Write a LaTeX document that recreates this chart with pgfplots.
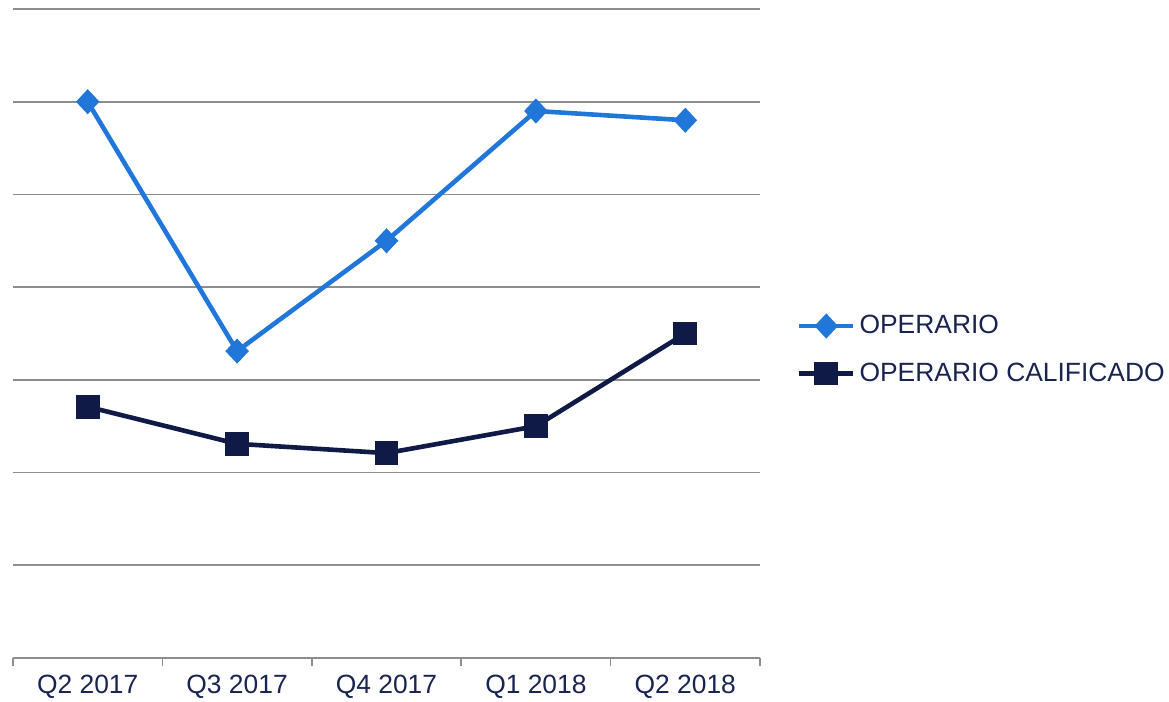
\documentclass[border=0pt]{standalone}
\usepackage{fontspec}
\setmainfont{Liberation Sans}
\usepackage{pgfplots}
\pgfplotsset{compat=1.18}
\definecolor{opblue}{RGB}{32,118,217}
\definecolor{opnavy}{RGB}{16,26,70}
\definecolor{txtnavy}{RGB}{26,36,80}
\definecolor{gridgray}{RGB}{140,140,145}

\begin{document}
\begin{tikzpicture}
\useasboundingbox (-6.5pt,-22pt) rectangle (578pt,329pt);
\begin{axis}[
    at={(0,0)}, anchor=south west,
    scale only axis,
    width=373.5pt, height=324.5pt,
    xmin=-0.5, xmax=4.5,
    ymin=0, ymax=7,
    axis x line*=bottom,
    axis y line*=left,
    x axis line style={gridgray, line width=0.8pt, -},
    y axis line style={draw=none},
    xtick={0,1,2,3,4},
    xticklabels={Q2 2017, Q3 2017, Q4 2017, Q1 2018, Q2 2018},
    major tick length=0pt,
    minor xtick={-0.5,0.5,1.5,2.5,3.5,4.5},
    minor tick length=4pt,
    tick align=outside,
    minor tick style={gridgray, line width=0.8pt},
    xticklabel style={font=\fontsize{13.2}{15}\selectfont, text=txtnavy, yshift=-5pt},
    ytick={1,2,3,4,5,6,7},
    yticklabels={},
    ymajorgrids,
    grid style={gridgray, line width=0.8pt},
    clip=false,
    legend style={at={(1.049,0.475)}, anchor=west, draw=none, fill=none,
        font=\fontsize{13.2}{15}\selectfont, text=txtnavy, row sep=9pt,
        inner sep=0pt},
    legend cell align=left,
    legend image code/.code={
        \draw[mark repeat=2,mark phase=2,#1]
        plot coordinates {(0pt,0pt)(13.5pt,0pt)(27pt,0pt)};
    },
]
\addplot[opblue, line width=2.3pt, mark=diamond*, mark size=4.6pt,
    mark options={solid, fill=opblue, xscale=1.25}]
    coordinates {(0,6.0) (1,3.31) (2,4.5) (3,5.9) (4,5.8)};
\addlegendentry{OPERARIO}
\addplot[opnavy, line width=2.3pt, mark=square*, mark size=4.8pt,
    mark options={solid, fill=opnavy}]
    coordinates {(0,2.71) (1,2.31) (2,2.21) (3,2.5) (4,3.5)};
\addlegendentry{OPERARIO CALIFICADO}
\end{axis}
\end{tikzpicture}
\end{document}
